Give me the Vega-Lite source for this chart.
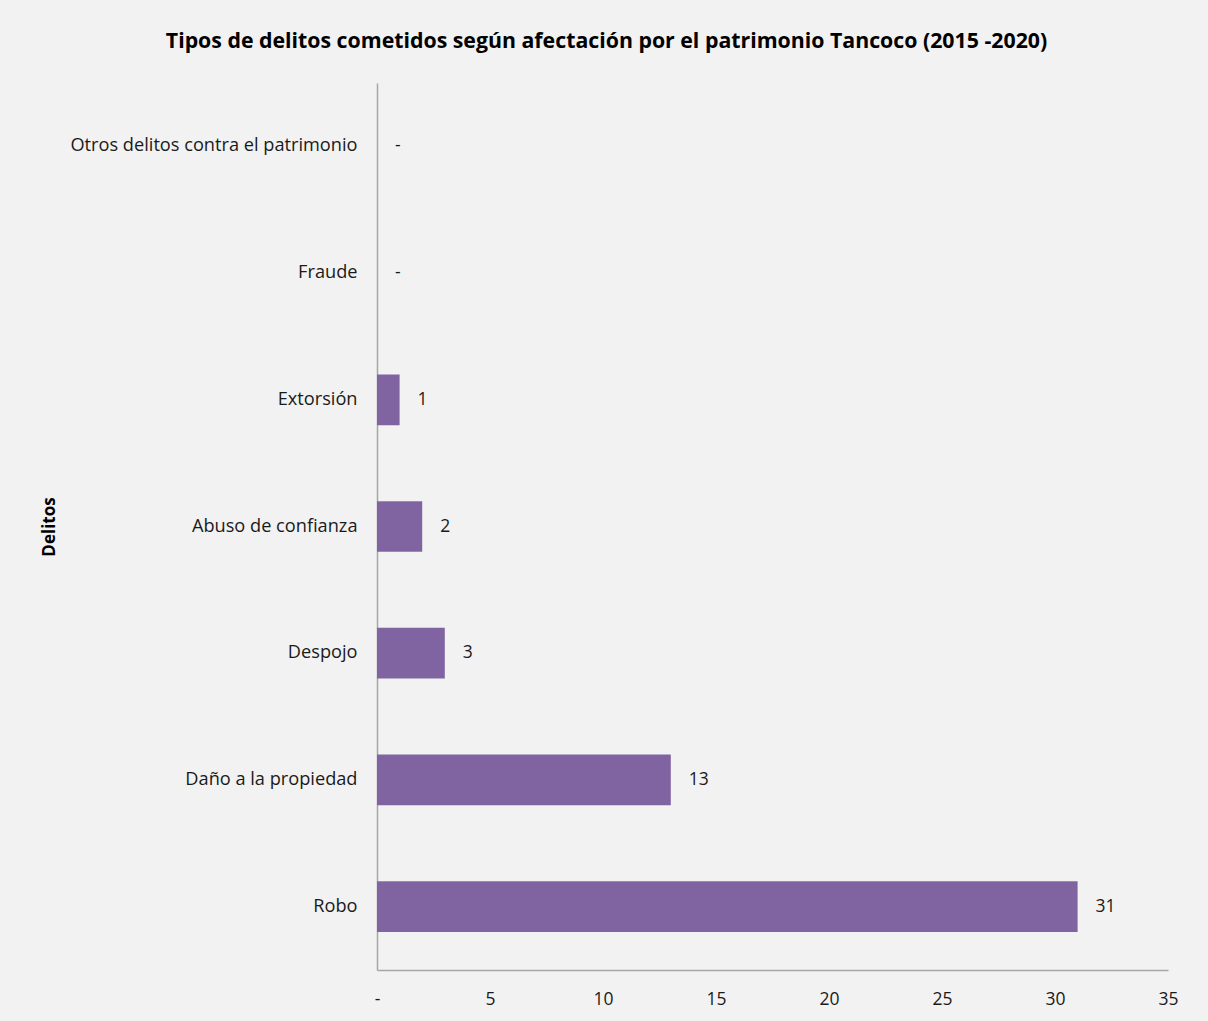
{
  "$schema": "https://vega.github.io/schema/vega-lite/v6.json",
  "width": 791,
  "height": 887,
  "autosize": {"type": "none"},
  "padding": {"left": 377, "top": 83, "right": 40, "bottom": 51},
  "background": "#f2f2f2",
  "config": {"view": {"stroke": null}, "font": "Open Sans"},
  "title": {
    "text": "Tipos de delitos cometidos según afectación por el patrimonio Tancoco (2015 -2020)",
    "fontSize": 21.3,
    "fontWeight": "bold",
    "font": "Open Sans",
    "color": "#000000",
    "anchor": "middle",
    "frame": "group",
    "dx": -166,
    "offset": 31
  },
  "data": {
    "values": [
      {"delito": "Otros delitos contra el patrimonio", "valor": 0},
      {"delito": "Fraude", "valor": 0},
      {"delito": "Extorsión", "valor": 1},
      {"delito": "Abuso de confianza", "valor": 2},
      {"delito": "Despojo", "valor": 3},
      {"delito": "Daño a la propiedad", "valor": 13},
      {"delito": "Robo", "valor": 31}
    ]
  },
  "encoding": {
    "y": {
      "field": "delito",
      "type": "nominal",
      "sort": null,
      "scale": {"paddingInner": 0.6, "paddingOuter": 0.3},
      "axis": {
        "title": "Delitos",
        "titleFontSize": 17,
        "titleFontWeight": "bold",
        "titleColor": "#000000",
        "titleX": -319,
        "titleFont": "Open Sans",
        "ticks": false,
        "labelPadding": 20,
        "labelLimit": 400,
        "labelFontSize": 18.2,
        "labelColor": "#1a1a1a",
        "labelFont": "Open Sans",
        "domainColor": "#a6a6a6",
        "domainWidth": 1.5
      }
    },
    "x": {
      "field": "valor",
      "type": "quantitative",
      "scale": {"domain": [0, 35], "nice": false},
      "axis": {
        "title": null,
        "values": [0, 5, 10, 15, 20, 25, 30, 35],
        "labelExpr": "datum.value == 0 ? '-' : datum.label",
        "labelFlush": false,
        "grid": false,
        "ticks": false,
        "labelPadding": 20,
        "labelFontSize": 17.5,
        "labelColor": "#1a1a1a",
        "labelFont": "Open Sans",
        "domainColor": "#a6a6a6",
        "domainWidth": 1.5
      }
    }
  },
  "layer": [
    {"mark": {"type": "bar", "color": "#8064a2"}},
    {
      "mark": {"type": "text", "align": "left", "dx": 18, "fontSize": 17.5, "color": "#1a1a1a", "font": "Open Sans"},
      "encoding": {
        "text": {"field": "lbl", "type": "nominal"}
      },
      "transform": [{"calculate": "datum.valor == 0 ? '-' : '' + datum.valor", "as": "lbl"}]
    }
  ]
}
